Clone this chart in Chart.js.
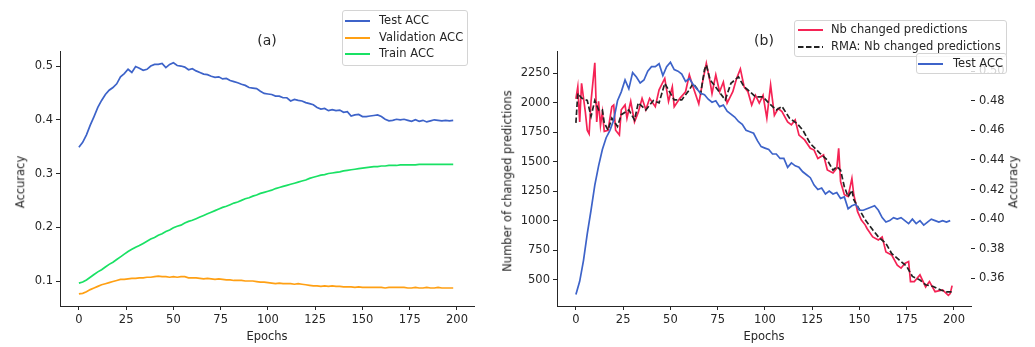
<!DOCTYPE html>
<html>
<head>
<meta charset="utf-8">
<script src="https://cdn.jsdelivr.net/npm/chart.js@4.4.0/dist/chart.umd.min.js"></script>
<style>
    body { margin: 0; background: #fff; font-family: "DejaVu Sans", sans-serif; color: #262626; }
    #pagina { position: relative; width: 1035px; height: 347px; overflow: hidden; }
    canvas { position: absolute; left: 0; top: 0; }
    .texto { position: absolute; white-space: nowrap; font-size: 11.5px; line-height: 1; }
    .leyenda { position: absolute; box-sizing: border-box; background: rgba(255, 255, 255, 0.8); border: 1px solid #d4d4d4; border-radius: 3px; }
    .muestra { position: absolute; }
</style>
</head>
<body>
<div id="pagina">
    <canvas id="graficoA" width="1035" height="347"></canvas>
    <canvas id="graficoB" width="1035" height="347"></canvas>
</div>
<script>
// Datos
const epocas = [0, 2, 4, 6, 8, 10, 12, 14, 16, 18, 20, 22, 24, 26, 28, 30, 32, 34, 36, 38,
    40, 42, 44, 46, 48, 50, 52, 54, 56, 58, 60, 62, 64, 66, 68, 70, 72, 74, 76, 78,
    80, 82, 84, 86, 88, 90, 92, 94, 96, 98, 100, 102, 104, 106, 108, 110, 112, 114, 116, 118,
    120, 122, 124, 126, 128, 130, 132, 134, 136, 138, 140, 142, 144, 146, 148, 150, 152, 154, 156, 158,
    160, 162, 164, 166, 168, 170, 172, 174, 176, 178, 180, 182, 184, 186, 188, 190, 192, 194, 196, 198];

const accTest = [0.349, 0.358, 0.372, 0.390, 0.406, 0.423, 0.436, 0.447, 0.455, 0.460,
    0.467, 0.480, 0.486, 0.494, 0.488, 0.499, 0.496, 0.492, 0.494, 0.500,
    0.503, 0.503, 0.505, 0.497, 0.503, 0.506, 0.501, 0.500, 0.498, 0.493,
    0.495, 0.491, 0.488, 0.485, 0.484, 0.481, 0.479, 0.480, 0.476, 0.477,
    0.473, 0.471, 0.469, 0.466, 0.464, 0.460, 0.459, 0.458, 0.453, 0.449,
    0.448, 0.447, 0.444, 0.444, 0.441, 0.441, 0.435, 0.438, 0.436, 0.435,
    0.432, 0.430, 0.428, 0.423, 0.420, 0.421, 0.417, 0.419, 0.417, 0.418,
    0.414, 0.415, 0.407, 0.409, 0.410, 0.406, 0.406, 0.407, 0.408, 0.409,
    0.406, 0.401, 0.398, 0.399, 0.401, 0.400, 0.401, 0.399, 0.397, 0.400,
    0.397, 0.399, 0.396, 0.398, 0.400, 0.399, 0.398, 0.399, 0.398, 0.399];

const accValidacion = [0.076, 0.077, 0.080, 0.084, 0.087, 0.090, 0.093, 0.095, 0.097, 0.099,
    0.101, 0.103, 0.103, 0.104, 0.105, 0.105, 0.106, 0.106, 0.107, 0.107,
    0.108, 0.109, 0.108, 0.108, 0.107, 0.108, 0.107, 0.108, 0.108, 0.106,
    0.106, 0.106, 0.105, 0.104, 0.105, 0.104, 0.103, 0.104, 0.103, 0.102,
    0.102, 0.101, 0.101, 0.101, 0.100, 0.100, 0.100, 0.099, 0.098, 0.098,
    0.097, 0.096, 0.095, 0.096, 0.095, 0.095, 0.095, 0.094, 0.095, 0.094,
    0.093, 0.092, 0.091, 0.091, 0.090, 0.091, 0.090, 0.091, 0.090, 0.090,
    0.089, 0.089, 0.089, 0.088, 0.089, 0.088, 0.088, 0.088, 0.088, 0.088,
    0.088, 0.087, 0.088, 0.088, 0.088, 0.088, 0.088, 0.087, 0.087, 0.088,
    0.087, 0.087, 0.088, 0.087, 0.087, 0.088, 0.087, 0.087, 0.087, 0.087];

const accTrain = [0.096, 0.098, 0.102, 0.107, 0.112, 0.117, 0.121, 0.126, 0.131, 0.135,
    0.140, 0.145, 0.150, 0.155, 0.159, 0.163, 0.166, 0.170, 0.174, 0.178,
    0.181, 0.185, 0.188, 0.192, 0.195, 0.199, 0.202, 0.204, 0.208, 0.211,
    0.213, 0.216, 0.219, 0.222, 0.225, 0.228, 0.231, 0.234, 0.237, 0.239,
    0.242, 0.245, 0.247, 0.250, 0.253, 0.255, 0.258, 0.260, 0.263, 0.265,
    0.267, 0.269, 0.272, 0.274, 0.276, 0.278, 0.280, 0.282, 0.284, 0.286,
    0.288, 0.291, 0.293, 0.295, 0.297, 0.298, 0.300, 0.301, 0.302, 0.303,
    0.305, 0.306, 0.307, 0.308, 0.309, 0.310, 0.311, 0.312, 0.313, 0.313,
    0.314, 0.314, 0.315, 0.315, 0.315, 0.316, 0.316, 0.316, 0.316, 0.316,
    0.317, 0.317, 0.317, 0.317, 0.317, 0.317, 0.317, 0.317, 0.317, 0.317];

const epocasCambios = [0, 1, 2, 3, 5, 6, 7, 8, 10, 11, 12, 13, 14, 15, 17, 19, 20, 21, 23, 24,
    26, 27, 29, 31, 33, 35, 37, 39, 42, 44, 47, 49, 51, 52, 55, 58, 60, 62, 65, 67,
    69, 71, 72, 74, 76, 78, 80, 83, 85, 87, 89, 91, 93, 95, 97, 99, 101, 103, 105, 107,
    109, 112, 114, 116, 118, 121, 124, 126, 128, 131, 133, 136, 138, 139, 140, 142, 144, 146, 147, 149,
    151, 153, 154, 157, 160, 162, 164, 167, 170, 172, 174, 176, 177, 179, 182, 185, 187, 190, 194, 197,
    198, 199];

const nbCambios = [2033, 2135, 1839, 2166, 1921, 1768, 1737, 2013, 2339, 1839, 2013, 1809, 1921, 1758, 1768, 1967, 1982, 1768, 1727, 1941,
    1982, 1870, 2013, 1839, 1921, 2038, 1941, 2038, 1967, 2110, 2207, 2013, 2135, 1967, 2038, 2094, 2237, 2135, 1992, 2176,
    2334, 2176, 2079, 2237, 2094, 2176, 1998, 2094, 2207, 2288, 2135, 2094, 1982, 2064, 1998, 2064, 1870, 2151, 1895, 1952,
    1926, 1839, 1814, 1855, 1727, 1686, 1615, 1600, 1528, 1559, 1431, 1406, 1447, 1615, 1334, 1222, 1207, 1360, 1222, 1079,
    1008, 967, 936, 865, 839, 865, 737, 712, 625, 600, 640, 656, 487, 487, 543, 441, 487, 401, 416, 370,
    385, 452];

const epocasRMA = [0, 1, 3, 6, 8, 10, 12, 14, 15, 17, 19, 22, 24, 28, 31, 33, 37, 41, 44, 47,
    50, 52, 56, 60, 62, 66, 68, 69, 71, 75, 79, 82, 86, 89, 91, 95, 99, 102, 106, 109,
    113, 117, 120, 124, 129, 133, 136, 138, 140, 142, 144, 146, 147, 150, 153, 157, 160, 164, 167, 171,
    175, 178, 182, 185, 189, 193, 196, 199];

const rmaCambios = [1830, 2080, 2040, 2020, 1885, 2020, 1940, 1940, 1830, 1770, 1870, 1800, 1900, 1940, 1855, 2000, 1940, 2020, 2000, 2165,
    2080, 2025, 2025, 2110, 2165, 2080, 2280, 2320, 2195, 2110, 2025, 2165, 2220, 2135, 2110, 2050, 2050, 2000, 1940, 1970,
    1870, 1825, 1770, 1655, 1575, 1515, 1430, 1460, 1430, 1290, 1205, 1260, 1180, 1095, 1010, 925, 865, 810, 725, 670,
    615, 530, 500, 460, 445, 415, 400, 400];

const ticksEpocas = [0, 25, 50, 75, 100, 125, 150, 175, 200];
const ticksAcc = [0.1, 0.2, 0.3, 0.4, 0.5];
const ticksCambios = [500, 750, 1000, 1250, 1500, 1750, 2000, 2250];
const ticksAccDerecha = [0.36, 0.38, 0.40, 0.42, 0.44, 0.46, 0.48, 0.50];

// Estilos
const azul = '#3d63c9';
const naranja = '#ffa014';
const verde = '#19e164';
const rojo = '#f52355';
const negro = '#222222';
const colorEje = '#262626';
const fuente = { family: 'DejaVu Sans', size: 11.5 };
const pagina = document.getElementById('pagina');

function puntos(xs, ys) {
    return xs.map((x, i) => ({ x: x, y: ys[i] }));
}

function marcas(lista) {
    return scale => { scale.ticks = lista.map(v => ({ value: v })); };
}

function eje(min, max, lista, formato, extra) {
    return Object.assign({
        type: 'linear',
        min: min,
        max: max,
        afterBuildTicks: marcas(lista),
        ticks: { font: fuente, color: colorEje, padding: 3, autoSkip: false, maxRotation: 0, callback: formato },
        grid: { display: true, drawOnChartArea: false, drawTicks: true, tickLength: 4, color: colorEje, lineWidth: 1 },
        border: { display: true, color: colorEje, width: 1 }
    }, extra);
}

function ejeEpocas() {
    return eje(-10, 209, ticksEpocas, v => String(v), { afterFit: s => { s.height = 41; } });
}

function serie(etiqueta, xs, ys, color, eje, orden, guiones) {
    return {
        label: etiqueta,
        data: puntos(xs, ys),
        borderColor: color,
        borderWidth: 1.7,
        borderDash: guiones || [],
        pointRadius: 0,
        tension: 0,
        yAxisID: eje,
        order: orden
    };
}

const opcionesBase = {
    responsive: false,
    animation: false,
    events: [],
    plugins: { legend: { display: false }, tooltip: { enabled: false } }
};

// Grafico (a)
new Chart(document.getElementById('graficoA'), {
    type: 'line',
    data: {
        datasets: [
            serie('Test ACC', epocas, accTest, azul, 'y', 0),
            serie('Validation ACC', epocas, accValidacion, naranja, 'y', 1),
            serie('Train ACC', epocas, accTrain, verde, 'y', 2)
        ]
    },
    options: Object.assign({}, opcionesBase, {
        layout: { padding: { left: 0, top: 51, right: 561, bottom: 0 } },
        scales: {
            x: ejeEpocas(),
            y: eje(0.0535, 0.528, ticksAcc, v => v.toFixed(1), { afterFit: s => { s.width = 60; } })
        }
    })
});

// Grafico (b)
new Chart(document.getElementById('graficoB'), {
    type: 'line',
    data: {
        datasets: [
            serie('Nb changed predictions', epocasCambios, nbCambios, rojo, 'y', 2),
            serie('RMA: Nb changed predictions', epocasRMA, rmaCambios, negro, 'y', 1, [5.5, 2.5]),
            serie('Test ACC', epocas, accTest, azul, 'y2', 0)
        ]
    },
    options: Object.assign({}, opcionesBase, {
        layout: { padding: { left: 490, top: 51, right: 19, bottom: 0 } },
        scales: {
            x: ejeEpocas(),
            y: eje(279.8, 2439, ticksCambios, v => String(v), { afterFit: s => { s.width = 67; } }),
            y2: eje(0.3413, 0.5136, ticksAccDerecha, v => v.toFixed(2), {
                position: 'right',
                afterFit: s => { s.width = 45; },
                ticks: { font: fuente, color: colorEje, padding: 4, autoSkip: false, callback: v => v.toFixed(2) },
                border: { display: false }
            })
        }
    })
});

// Textos: titulos y ejes
function ponerTexto(texto, x, y, tam, girar) {
    const el = document.createElement('div');
    el.className = 'texto';
    el.textContent = texto;
    el.style.left = x + 'px';
    el.style.top = y + 'px';
    if (tam) el.style.fontSize = tam + 'px';
    el.style.transform = 'translate(-50%, -50%)' + (girar ? ' rotate(-90deg)' : '');
    pagina.appendChild(el);
}

ponerTexto('(a)', 267, 39.5, 14);
ponerTexto('(b)', 764, 39.5, 14);
ponerTexto('Epochs', 267, 337);
ponerTexto('Epochs', 764, 337);
ponerTexto('Accuracy', 21, 182, null, true);
ponerTexto('Number of changed predictions', 508, 181, null, true);
ponerTexto('Accuracy', 1013.5, 182, null, true);

// Leyendas
function ponerLeyenda(caja, filas) {
    const div = document.createElement('div');
    div.className = 'leyenda';
    div.style.left = caja[0] + 'px';
    div.style.top = caja[1] + 'px';
    div.style.width = (caja[2] - caja[0]) + 'px';
    div.style.height = (caja[3] - caja[1]) + 'px';
    pagina.appendChild(div);
    filas.forEach(f => {
        const svg = document.createElementNS('http://www.w3.org/2000/svg', 'svg');
        svg.setAttribute('class', 'muestra');
        svg.setAttribute('width', 26);
        svg.setAttribute('height', 6);
        svg.style.left = (f.x - caja[0] - 1) + 'px';
        svg.style.top = (f.y - caja[1] - 4) + 'px';
        const linea = document.createElementNS('http://www.w3.org/2000/svg', 'line');
        linea.setAttribute('x1', 0);
        linea.setAttribute('x2', 25);
        linea.setAttribute('y1', 3);
        linea.setAttribute('y2', 3);
        linea.setAttribute('stroke', f.color);
        linea.setAttribute('stroke-width', 2);
        if (f.guiones) linea.setAttribute('stroke-dasharray', '5.5 2.5');
        svg.appendChild(linea);
        div.appendChild(svg);
        const t = document.createElement('div');
        t.className = 'texto';
        t.textContent = f.texto;
        t.style.left = (f.xt - caja[0] - 1) + 'px';
        t.style.top = (f.y - caja[1] - 1) + 'px';
        t.style.transform = 'translateY(-50%)';
        div.appendChild(t);
    });
}

ponerLeyenda([342, 10, 468, 66], [
    { texto: 'Test ACC', color: azul, x: 345, xt: 379, y: 21 },
    { texto: 'Validation ACC', color: naranja, x: 345, xt: 379, y: 37.5 },
    { texto: 'Train ACC', color: verde, x: 345, xt: 379, y: 54 }
]);
ponerLeyenda([794, 20, 1007, 57], [
    { texto: 'Nb changed predictions', color: rojo, x: 798, xt: 831, y: 30 },
    { texto: 'RMA: Nb changed predictions', color: negro, x: 798, xt: 831, y: 47, guiones: true }
]);
ponerLeyenda([916, 53, 1007, 74], [
    { texto: 'Test ACC', color: azul, x: 918, xt: 953, y: 63.5 }
]);
</script>
</body>
</html>
